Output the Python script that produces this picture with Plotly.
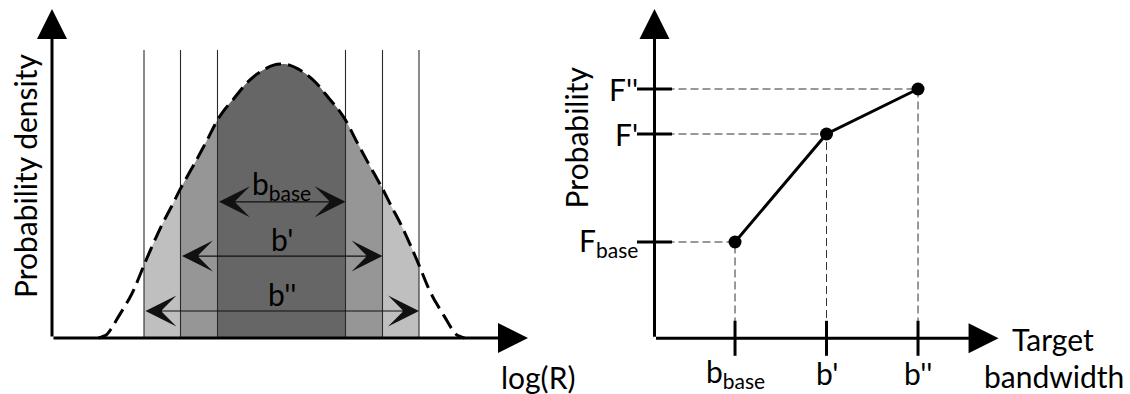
import plotly.graph_objects as go

# ---------------- data: left panel (probability density over log(R)) ----------------
logR = [-1.83, -1.75, -1.70, -1.63, -1.52, -1.46, -1.375, -1.30, -1.20, -1.10, -1.01, -0.85, -0.74,
        -0.64, -0.56, -0.48, -0.35, -0.25, -0.165, -0.08, 0.0, 0.08, 0.165, 0.25, 0.35, 0.48, 0.56,
        0.64, 0.74, 0.85, 1.01, 1.10, 1.20, 1.30, 1.375, 1.46, 1.52, 1.63, 1.70, 1.75, 1.83]
density = [0.0, 0.012, 0.035, 0.078, 0.145, 0.19, 0.266, 0.33, 0.41, 0.48, 0.545, 0.65, 0.725,
           0.796, 0.838, 0.872, 0.93, 0.962, 0.982, 0.996, 1.0, 0.996, 0.982, 0.962, 0.93, 0.872,
           0.838, 0.796, 0.725, 0.65, 0.545, 0.48, 0.41, 0.33, 0.266, 0.19, 0.145, 0.078, 0.035,
           0.012, 0.0]
band_labels = ["b<sub>base</sub>", "b'", "b''"]
band_lo = [-0.64, -1.01, -1.375]
band_hi = [0.64, 1.01, 1.375]
band_arrow_y = [0.497, 0.299, 0.0985]
band_line_top = 1.051
left_axis_x0 = -2.295       # where the density axis sits on the log(R) scale
left_axis_xend = 2.465      # tip of the log(R) arrow
left_axis_yend = 1.2007     # tip of the density arrow

# ---------------- data: right panel (probability vs target bandwidth) ----------------
bandwidth = [0.88, 1.88, 2.88]
probability = [0.321, 0.681, 0.831]
bw_labels = ["b<sub>base</sub>", "b'", "b''"]
prob_labels = ["F<sub>base</sub>", "F'", "F''"]
right_axis_xend = 3.76
right_axis_yend = 1.0977

# ---------------- styling ----------------
FONT = "Lato"
FS = 30
band_fill = ["#666666", "#969696", "#bfbfbf"]   # inner -> outer
W, H = 1130, 394

fig = go.Figure()

# shaded bands (outermost first)
for i in [2, 1, 0]:
    xs = [x for x in logR if band_lo[i] - 1e-9 <= x <= band_hi[i] + 1e-9]
    ys = [density[logR.index(x)] for x in xs]
    fig.add_trace(go.Scatter(x=xs, y=ys, mode="lines", fill="tozeroy", line_shape="spline",
                             fillcolor=band_fill[i], line=dict(width=0, smoothing=0.8),
                             xaxis="x", yaxis="y", hoverinfo="skip"))

# vertical band boundaries
vx, vy = [], []
for lo, hi in zip(band_lo, band_hi):
    for e in (lo, hi):
        vx += [e, e, None]
        vy += [0, band_line_top, None]
fig.add_trace(go.Scatter(x=vx, y=vy, mode="lines", line=dict(color="#2a2a2a", width=1.1),
                         xaxis="x", yaxis="y", hoverinfo="skip"))

# dashed density curve
fig.add_trace(go.Scatter(x=logR, y=density, mode="lines", line_shape="spline",
                         line=dict(color="black", width=3, dash="16px,7px", smoothing=0.8),
                         xaxis="x", yaxis="y", hoverinfo="skip"))

# right panel guides
gx, gy = [], []
for b, f in zip(bandwidth, probability):
    gx += [0, b, b, None]
    gy += [f, f, 0, None]
fig.add_trace(go.Scatter(x=gx, y=gy, mode="lines", line=dict(color="#333333", width=1, dash="8px,4px"),
                         xaxis="x2", yaxis="y2", hoverinfo="skip"))

# ticks crossing the axes
fig.add_trace(go.Scatter(x=bandwidth, y=[0] * len(bandwidth), mode="markers",
                         marker=dict(symbol="line-ns", size=25, line=dict(color="black", width=3)),
                         xaxis="x2", yaxis="y2", cliponaxis=False, hoverinfo="skip"))
fig.add_trace(go.Scatter(x=[0] * len(probability), y=probability, mode="markers",
                         marker=dict(symbol="line-ew", size=25, line=dict(color="black", width=3)),
                         xaxis="x2", yaxis="y2", cliponaxis=False, hoverinfo="skip"))

# probability curve
fig.add_trace(go.Scatter(x=bandwidth, y=probability, mode="lines+markers",
                         line=dict(color="black", width=3),
                         marker=dict(color="black", size=13),
                         xaxis="x2", yaxis="y2", hoverinfo="skip"))

ann = []
def axis_arrow(xr, yr, x0, y0, x1, y1):
    ann.append(dict(xref=xr, yref=yr, axref=xr, ayref=yr, x=x1, y=y1, ax=x0, ay=y0,
                    text="", showarrow=True, arrowhead=2, arrowwidth=3, arrowsize=2.0,
                    arrowcolor="black", standoff=0))

axis_arrow("x", "y", left_axis_x0, 0, left_axis_x0, left_axis_yend)
axis_arrow("x", "y", left_axis_x0, 0, left_axis_xend, 0)
axis_arrow("x2", "y2", 0, 0, 0, right_axis_yend)
axis_arrow("x2", "y2", 0, 0, right_axis_xend, 0)

# double-headed band arrows + labels
for lab, lo, hi, y in zip(band_labels, band_lo, band_hi, band_arrow_y):
    ann.append(dict(xref="x", yref="y", axref="x", ayref="y", x=hi, y=y, ax=lo, ay=y,
                    text="", showarrow=True, arrowhead=3, startarrowhead=3,
                    arrowside="end+start", arrowwidth=1.2, arrowsize=4.3, startarrowsize=4.3,
                    arrowcolor="#111111", standoff=0, startstandoff=0))
    ann.append(dict(xref="x", yref="y", x=(lo + hi) / 2, y=y, text=lab, showarrow=False,
                    yanchor="middle", yshift=17, font=dict(family=FONT, size=FS, color="black")))

# axis titles left
ann.append(dict(xref="x", yref="y", x=left_axis_x0, y=0.591, xshift=-27, text="Probability density",
                textangle=-90, showarrow=False, font=dict(family=FONT, size=FS, color="black")))
ann.append(dict(xref="x", yref="y", x=left_axis_xend, y=0, xshift=10, yshift=-39, text="log(R)",
                showarrow=False, font=dict(family=FONT, size=FS, color="black")))

# right panel labels
for lab, f in zip(prob_labels, probability):
    ann.append(dict(xref="x2", yref="y2", x=0, y=f, xanchor="right", xshift=-15, text=lab,
                    showarrow=False, font=dict(family=FONT, size=FS, color="black")))
for lab, b in zip(bw_labels, bandwidth):
    ann.append(dict(xref="x2", yref="y2", x=b, y=0, yshift=-35, text=lab,
                    showarrow=False, font=dict(family=FONT, size=FS, color="black")))
ann.append(dict(xref="x2", yref="y2", x=0, y=0.668, xshift=-79, text="Probability",
                textangle=-90, showarrow=False, font=dict(family=FONT, size=FS, color="black")))
ann.append(dict(xref="x2", yref="y2", x=right_axis_xend, y=0, xshift=54, yshift=-1, text="Target",
                yanchor="middle", showarrow=False, font=dict(family=FONT, size=FS, color="black")))
ann.append(dict(xref="x2", yref="y2", x=right_axis_xend, y=0, xshift=55, yshift=-38, text="bandwidth",
                yanchor="middle", showarrow=False, font=dict(family=FONT, size=FS, color="black")))

split = 560 / W
hidden = dict(visible=False, fixedrange=True, showgrid=False, zeroline=False)
fig.update_layout(
    width=W, height=H, margin=dict(l=0, r=0, t=0, b=0),
    paper_bgcolor="white", plot_bgcolor="white", showlegend=False,
    xaxis=dict(domain=[0, split], range=[(0 - 281.5) / 100, (560 - 281.5) / 100], **hidden),
    yaxis=dict(domain=[0, 1], range=[(338 - 394) / 274, 338 / 274], **hidden),
    xaxis2=dict(domain=[split, 1], range=[(560 - 654.5) / 91.5, (1130 - 654.5) / 91.5],
                anchor="y2", **hidden),
    yaxis2=dict(domain=[0, 1], range=[(338.3 - 394) / 300, 338.3 / 300], anchor="x2", **hidden),
    annotations=ann,
)

fig.write_html("out.html")
